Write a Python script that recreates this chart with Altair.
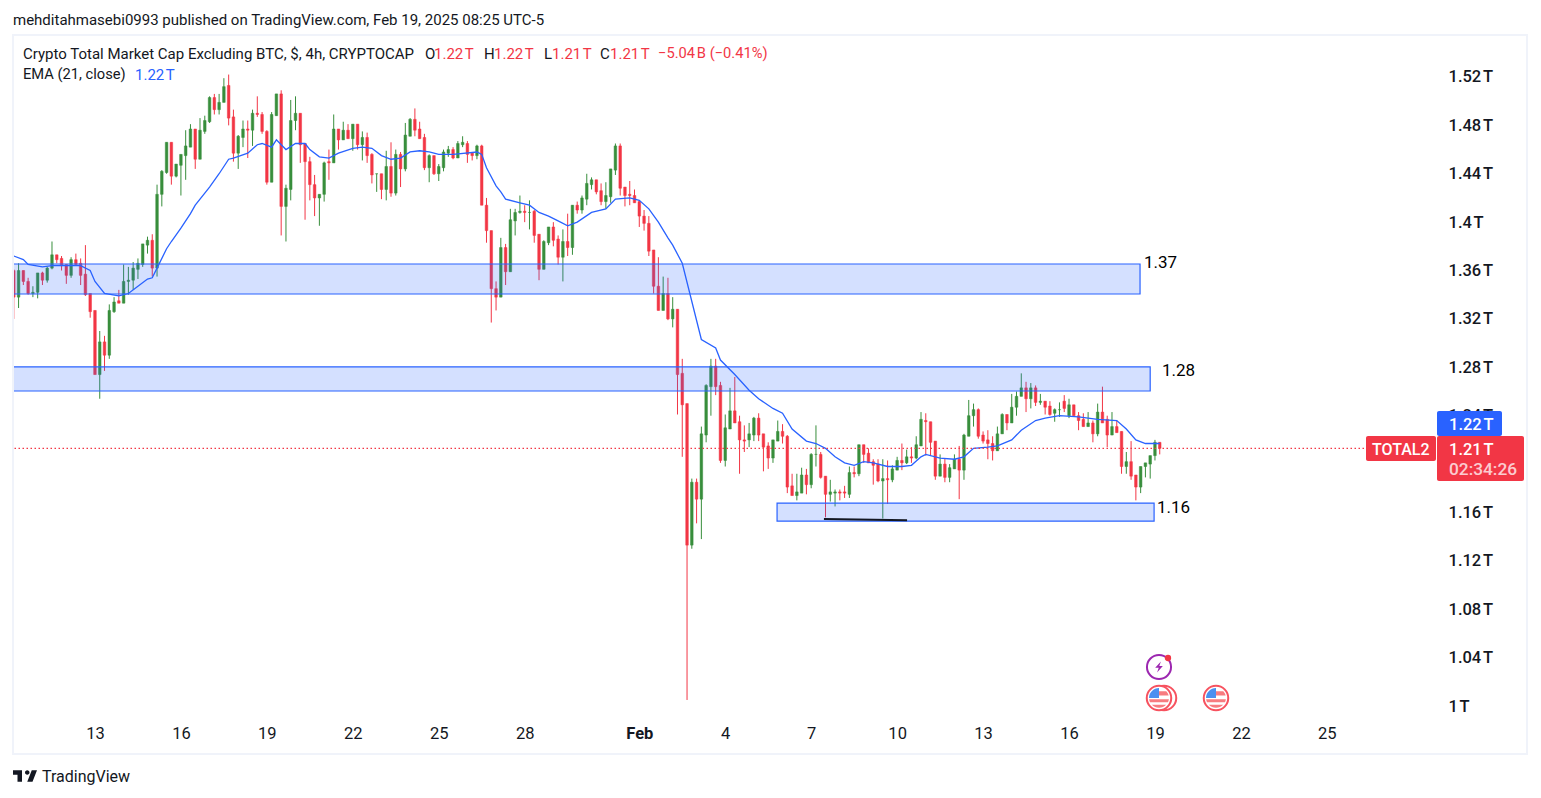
import altair as alt
import pandas as pd

GREEN = "#388E3C"
RED = "#F23645"
BLUE = "#2962FF"
INK = "#131722"
FONT = "Roboto"

opens = [1360,1338,1360,1351,1341,1342,1358,1352,1362,1373,
1370,1365,1356,1369,1366,1357,1341,1327,1274,1301,
1290,1326,1335,1333,1351,1352,1361,1365,1381,1385,
1362,1423,1441,1466,1438,1447,1455,1462,1477,1452,
1475,1483,1503,1493,1499,1513,1487,1457,1470,1477,
1476,1490,1489,1475,1433,1488,1506,1413,1427,1484,
1490,1465,1450,1431,1420,1423,1450,1449,1477,1468,
1476,1469,1481,1464,1470,1456,1440,1440,1427,1446,
1424,1456,1444,1471,1485,1477,1470,1445,1455,1440,
1445,1457,1460,1453,1464,1465,1457,1455,1463,1414,
1393,1345,1338,1379,1359,1401,1408,1409,1408,1409,
1390,1361,1383,1396,1386,1371,1384,1379,1414,1410,
1419,1431,1435,1426,1417,1421,1443,1463,1429,1423,
1422,1417,1405,1399,1377,1347,1327,1341,1320,1328,
1275,1250,1133,1185,1171,1224,1264,1281,1265,1203,
1229,1244,1235,1220,1220,1224,1238,1225,1215,1205,
1219,1227,1223,1182,1174,1176,1191,1183,1208,1208,
1190,1175,1176,1177,1177,1175,1193,1192,1216,1209,
1202,1200,1186,1188,1187,1195,1203,1201,1206,1205,
1215,1236,1235,1219,1190,1200,1189,1196,1204,1195,
1223,1240,1245,1224,1220,1217,1211,1225,1241,1234,
1247,1256,1263,1254,1263,1251,1252,1248,1242,1245,
1252,1240,1249,1240,1237,1231,1234,1225,1243,1237,
1224,1231,1227,1198,1202,1191,1181,1198,1200,1207,1218]

highs = [1361,1366,1360,1354,1347,1358,1359,1363,1384,1373,
1372,1365,1371,1374,1370,1381,1341,1327,1310,1306,
1332,1338,1344,1365,1363,1367,1370,1382,1388,1390,
1431,1443,1466,1466,1448,1456,1476,1481,1477,1486,
1488,1504,1506,1506,1519,1522,1493,1472,1484,1484,
1493,1504,1491,1476,1491,1506,1509,1431,1501,1504,
1490,1465,1454,1439,1423,1450,1460,1489,1477,1483,
1481,1481,1481,1475,1474,1457,1440,1440,1459,1466,
1460,1458,1482,1486,1494,1483,1473,1456,1455,1448,
1460,1463,1462,1467,1471,1467,1458,1464,1464,1420,
1393,1351,1387,1382,1411,1411,1422,1414,1418,1410,
1390,1385,1396,1400,1389,1394,1407,1414,1417,1422,
1440,1437,1435,1432,1433,1444,1465,1465,1429,1434,
1427,1418,1410,1405,1377,1371,1355,1354,1338,1328,
1287,1250,1188,1188,1231,1266,1287,1287,1268,1241,
1263,1272,1240,1232,1234,1239,1242,1225,1218,1220,
1236,1233,1224,1192,1192,1197,1196,1209,1232,1210,
1190,1187,1179,1179,1182,1198,1198,1216,1216,1213,
1204,1204,1204,1203,1199,1206,1217,1212,1214,1223,
1243,1242,1235,1219,1208,1205,1200,1208,1215,1225,
1253,1250,1246,1227,1228,1223,1231,1242,1241,1258,
1260,1275,1268,1267,1265,1258,1252,1252,1246,1251,
1257,1254,1249,1243,1242,1243,1236,1250,1264,1240,
1243,1236,1227,1210,1219,1191,1198,1201,1207,1220,1218]

lows = [1320,1329,1348,1340,1338,1337,1348,1350,1361,1366,
1360,1349,1354,1364,1348,1339,1321,1274,1254,1277,
1287,1325,1333,1333,1340,1344,1353,1363,1374,1355,
1355,1413,1440,1431,1437,1422,1435,1462,1444,1452,
1473,1482,1489,1489,1499,1480,1450,1444,1462,1453,
1463,1487,1473,1431,1433,1488,1389,1384,1418,1476,
1449,1402,1418,1405,1397,1417,1435,1449,1460,1468,
1469,1459,1460,1451,1449,1432,1425,1419,1418,1421,
1422,1429,1442,1471,1471,1469,1443,1433,1439,1434,
1442,1454,1452,1453,1462,1449,1451,1452,1414,1383,
1317,1327,1338,1348,1359,1389,1407,1400,1394,1383,
1352,1361,1381,1380,1365,1351,1372,1373,1407,1407,
1414,1427,1423,1414,1411,1416,1439,1422,1413,1414,
1416,1396,1393,1372,1341,1327,1327,1319,1313,1241,
1206,1005,1130,1151,1138,1218,1240,1257,1201,1198,
1229,1234,1192,1210,1214,1219,1219,1194,1196,1201,
1219,1217,1176,1174,1170,1176,1175,1180,1198,1188,
1156,1169,1165,1170,1172,1172,1189,1190,1201,1201,
1183,1185,1155,1167,1185,1195,1195,1200,1201,1204,
1215,1207,1207,1187,1190,1185,1185,1196,1171,1187,
1223,1231,1221,1217,1204,1203,1211,1225,1228,1234,
1240,1256,1243,1246,1248,1249,1241,1240,1235,1239,
1243,1238,1240,1228,1231,1231,1218,1223,1234,1214,
1224,1226,1192,1192,1187,1170,1176,1189,1188,1203,1208]

closes = [1338,1360,1351,1341,1342,1358,1352,1362,1373,1369,
1364,1356,1369,1365,1356,1340,1326,1274,1301,1290,
1327,1334,1333,1351,1352,1362,1366,1382,1385,1362,
1423,1442,1466,1438,1448,1456,1463,1477,1452,1476,
1484,1503,1493,1499,1512,1486,1457,1471,1477,1476,
1490,1489,1475,1433,1489,1506,1413,1428,1484,1490,
1464,1450,1431,1420,1423,1449,1449,1477,1468,1476,
1469,1481,1464,1470,1455,1439,1440,1427,1446,1424,
1456,1444,1472,1485,1476,1469,1445,1455,1440,1446,
1458,1460,1453,1465,1466,1456,1455,1463,1414,1393,
1345,1338,1379,1359,1402,1408,1409,1408,1408,1389,
1361,1384,1396,1385,1371,1384,1379,1414,1410,1420,
1432,1435,1425,1417,1422,1444,1463,1428,1422,1422,
1416,1405,1399,1376,1347,1327,1341,1320,1328,1274,
1249,1133,1185,1171,1225,1265,1281,1264,1203,1230,
1244,1234,1220,1219,1225,1238,1224,1214,1205,1220,
1227,1223,1181,1174,1177,1191,1183,1208,1208,1189,
1175,1177,1177,1176,1176,1193,1192,1216,1208,1201,
1199,1186,1188,1187,1196,1203,1201,1206,1205,1216,
1237,1235,1218,1190,1200,1189,1197,1204,1195,1224,
1240,1245,1223,1219,1217,1211,1225,1241,1234,1247,
1256,1263,1254,1263,1251,1252,1247,1241,1245,1245,
1246,1249,1240,1236,1231,1234,1225,1243,1234,1224,
1231,1226,1198,1202,1190,1181,1198,1201,1207,1218,1213]

ema_index = [0,2,3,6,8,11,14,16,17,19,22,24,26,28,29,30,32,33,35,37,38,41,43,45,46,49,51,52,54,55,57,59,61,62,64,66,68,
71,73,75,77,79,81,83,85,87,89,92,97,98,99,101,102,103,106,108,110,112,114,116,118,121,124,126,129,131,133,135,137,138,140,
144,147,148,151,154,156,159,161,163,166,168,170,172,174,176,178,180,183,186,188,
190,191,194,197,199,201,204,206,209,211,214,216,219,223,227,231,233,235,237,240]
ema_values = [1372,1369,1365,1363,1364,1364,1364,1360,1351,1341,1339,1341,1347,1353,1354,1362,1378,1384,1395,1407,1414,1429,1440,1452,1453,1457,1464,1465,1462,1468,1460,1465,1465,1460,1454,1453,1457,
1461,1462,1461,1455,1452,1453,1458,1459,1458,1456,1456,1458,1456,1445,1430,1425,1419,1416,1414,1408,1405,1401,1397,1400,1408,1411,1419,1420,1418,1411,1400,1387,1381,1366,
1303,1296,1286,1274,1261,1254,1246,1242,1229,1219,1217,1213,1206,1201,1199,1202,1201,1198,1198,1199,
1206,1208,1205,1204,1206,1213,1214,1215,1220,1228,1236,1238,1240,1239,1237,1236,1229,1220,1217,1217]

band_start = ["2025-01-01T00:00:00Z", "2025-01-01T00:00:00Z", "2025-02-05T19:25:00Z"]
band_end = ["2025-02-18T11:30:00Z", "2025-02-18T20:00:00Z", "2025-02-18T23:16:00Z"]
band_top = [1365.4, 1280.3, 1167.8]
band_bottom = [1340.6, 1260.4, 1152.9]

trend_dates = ["2025-02-07T10:40:00Z", "2025-02-10T08:20:00Z"]
trend_values = [1154.6, 1153.5]

last_price = [1213]
price_ticks = [1000,1040,1080,1120,1160,1200,1240,1280,1320,1360,1400,1440,1480,1520]
date_ticks = ["2025-01-13","2025-01-16","2025-01-19","2025-01-22","2025-01-25","2025-01-28",
              "2025-02-01","2025-02-04","2025-02-07","2025-02-10","2025-02-13","2025-02-16",
              "2025-02-19","2025-02-22","2025-02-25"]

times = pd.date_range("2025-01-10 04:00", periods=len(opens), freq="4h")
tstr = [t.strftime("%Y-%m-%dT%H:%M:%SZ") for t in times]
candles = pd.DataFrame({"t": tstr, "o": opens, "h": highs, "l": lows, "c": closes})
candles["dir"] = ["up" if c >= o else "down" for o, c in zip(opens, closes)]
ema = pd.DataFrame({"t": [tstr[i] for i in ema_index], "v": ema_values})
bands = pd.DataFrame({"a": band_start, "b": band_end, "top": band_top, "bot": band_bottom})
trend = pd.DataFrame({"t": trend_dates, "v": trend_values})

def ms(s):
    return int(pd.Timestamp(s, tz="UTC").timestamp() * 1000)

W, H = 1423, 683
X0, Y0 = 13, 35
xscale = alt.Scale(domain=[ms("2025-01-10T03:20:00"), ms("2025-02-28T19:26:00")], nice=False, padding=0)
yscale = alt.Scale(domain=[990.1, 1554.7], nice=False, zero=False)
dirscale = alt.Scale(domain=["up", "down"], range=[GREEN, RED])

x_axis = alt.Axis(
    values=[ms(d) for d in date_ticks], title=None, grid=False, domain=False, ticks=False,
    labelExpr="utcdate(datum.value)==1 ? 'Feb' : utcdate(datum.value)",
    labelFont=FONT, labelFontSize=16.5, labelColor=INK, labelPadding=7, labelAngle=0,
    labelFlush=False, labelOverlap=False,
    labelFontWeight={"condition": {"test": "utcdate(datum.value)==1", "value": 700}, "value": 400},
)
y_axis = alt.Axis(
    values=price_ticks, orient="right", title=None, grid=False, domain=False, ticks=False,
    labelExpr="format(datum.value/1000,'.3~g') + '\u202fT'",
    labelFont=FONT, labelFontSize=16.5, labelFontWeight=500, labelColor=INK, labelPadding=12,
    labelAlign="left", labelOverlap=False,
)

wicks = alt.Chart(candles).mark_rule(strokeWidth=1, clip=True).encode(
    x=alt.X("t:T", scale=xscale, axis=x_axis),
    y=alt.Y("l:Q", scale=yscale, axis=y_axis),
    y2="h:Q",
    color=alt.Color("dir:N", scale=dirscale, legend=None),
)
bodies = alt.Chart(candles).mark_bar(size=2.6, strokeWidth=0.5, clip=True).encode(
    x="t:T", y="o:Q", y2="c:Q",
    color=alt.Color("dir:N", scale=dirscale, legend=None),
    stroke=alt.Stroke("dir:N", scale=dirscale, legend=None),
)
ema_line = alt.Chart(ema).mark_line(color=BLUE, strokeWidth=1.3, clip=True).encode(x="t:T", y="v:Q")
band_rects = alt.Chart(bands).mark_rect(fill=BLUE, fillOpacity=0.2, stroke=BLUE, strokeOpacity=1, strokeWidth=1.2, clip=True).encode(
    x="a:T", x2="b:T", y="top:Q", y2="bot:Q")
trend_line = alt.Chart(trend).mark_line(color=INK, strokeWidth=2).encode(x="t:T", y="v:Q")
last_rule = alt.Chart(pd.DataFrame({"v": last_price})).mark_rule(
    stroke=RED, strokeWidth=1.2, strokeDash=[1.5, 2.5]).encode(y="v:Q")

ONE = pd.DataFrame({"k": [0]})

def box(x0, x1, y0, y1, color, radius=0):
    return alt.Chart(ONE).mark_rect(color=color, cornerRadius=radius).encode(
        x=alt.value(x0 - X0), x2=alt.value(x1 - X0), y=alt.value(y0 - Y0), y2=alt.value(y1 - Y0))

def label(text, x, y, color=INK, size=15, weight=400, opacity=1, align="left"):
    return alt.Chart(pd.DataFrame({"s": [text]})).mark_text(
        align=align, baseline="middle", font=FONT, fontSize=size, fontWeight=weight, color=color, opacity=opacity
    ).encode(x=alt.value(x - X0), y=alt.value(y - Y0), text="s:N")

def glyph(shape, x, y, size, fill=None, stroke=None, sw=1):
    kw = {"shape": shape, "size": size, "opacity": 1}
    if fill:
        kw.update(filled=True, color=fill)
    else:
        kw.update(filled=False, color=stroke, strokeWidth=sw)
    return alt.Chart(ONE).mark_point(**kw).encode(x=alt.value(x - X0), y=alt.value(y - Y0))

LOGO = ("M-0.25 -0.469H-1V-0.094H-0.625V0.469H-0.25Z"
        "M0.625 0.469H0.1875L0.5625 -0.469H1Z"
        "M0.1875 -0.094A0.1875 0.1875 0 1 0 0.1875 -0.469A0.1875 0.1875 0 0 0 0.1875 -0.094Z")
BOLT = "M0.35 -1L-0.7 0.15H-0.05L-0.35 1L0.7 -0.2H0.05Z"
CANTON = "M0 0H-1A1 1 0 0 1 0 -1Z"
STRIPES = ("M0 -0.68H0.73A1 1 0 0 1 0.97 -0.24H0Z"
           "M-0.99 0.12H0.99A1 1 0 0 1 0.9 0.42H-0.9A1 1 0 0 1 -0.99 0.12Z"
           "M-0.72 0.68H0.72A1 1 0 0 1 -0.72 0.68Z")

def flag(x, y):
    return [
        glyph("circle", x, y, 600, fill="#FFFFFF"),
        glyph("circle", x, y, 600, stroke="#F7525F", sw=2),
        glyph(CANTON, x, y, 400, fill="#4A90F0"),
        glyph(STRIPES, x, y, 400, fill="#F77C80"),
    ]

layers = [wicks, bodies, ema_line, last_rule, band_rects, trend_line]

layers += [
    label("1.37", 1144, 263, "#000000", 17),
    label("1.28", 1162, 371, "#000000", 17),
    label("1.16", 1157, 508, "#000000", 17),
]
layers += [
    box(1437, 1502, 411, 436, BLUE, 2),
    label("1.22\u202fT", 1449, 424.5, "#FFFFFF", 16.5, 500),
    box(1437, 1524, 436, 481, RED, 2),
    label("1.21\u202fT", 1449, 449.5, "#FFFFFF", 16.5, 500),
    label("02:34:26", 1449, 469.5, "#FFFFFF", 17.3, 500, 0.75),
    box(1366, 1436, 436, 461, RED, 2),
    label("TOTAL2", 1372, 449.5, "#FFFFFF", 16, 500),
]
layers += [
    label("mehditahmasebi0993 published on TradingView.com, Feb 19, 2025 08:25 UTC-5", 13, 20, INK, 15),
    label("Crypto Total Market Cap Excluding BTC, $, 4h, CRYPTOCAP", 23, 54, INK, 15),
    label("O", 425, 54), label("1.22\u202fT", 434, 54, RED),
    label("H", 484, 54), label("1.22\u202fT", 494, 54, RED),
    label("L", 544, 54), label("1.21\u202fT", 552, 54, RED),
    label("C", 600, 54), label("1.21\u202fT", 610, 54, RED),
    label("\u22125.04\u202fB (\u22120.41%)", 658, 54, RED, 14.7),
    label("EMA (21, close)", 23, 75, INK, 14.7),
    label("1.22\u202fT", 135, 75, BLUE),
]
layers += [
    glyph(LOGO, 25, 776, 576, fill=INK),
    label("TradingView", 42, 777, INK, 16),
]
layers += [
    glyph("circle", 1164, 698, 600, fill="#FFFFFF"),
    glyph("circle", 1164, 698, 600, stroke="#F7525F", sw=2),
]
layers += flag(1159, 698) + flag(1216, 698)
layers += [
    glyph("circle", 1159, 667, 580, stroke="#9C27B0", sw=2),
    glyph(BOLT, 1159, 667, 120, fill="#9C27B0"),
    glyph("circle", 1168, 658, 40, fill=RED),
]
layers += [
    box(12, 14, 34, 755, "#F0F3FA"),
    box(1526, 1528, 34, 755, "#F0F3FA"),
    box(12, 1528, 34, 36, "#F0F3FA"),
    box(12, 1528, 753, 755, "#F0F3FA"),
]

chart = alt.layer(*layers).properties(
    width=W, height=H,
    autosize=alt.AutoSizeParams(type="none"),
    padding={"left": X0 - 8, "top": Y0 - 8, "right": 95, "bottom": 68},
    background="#FFFFFF",
).resolve_scale(color="shared", stroke="shared").configure_view(stroke=None)

chart.save("out.html", embed_options={"renderer": "svg", "actions": False})
